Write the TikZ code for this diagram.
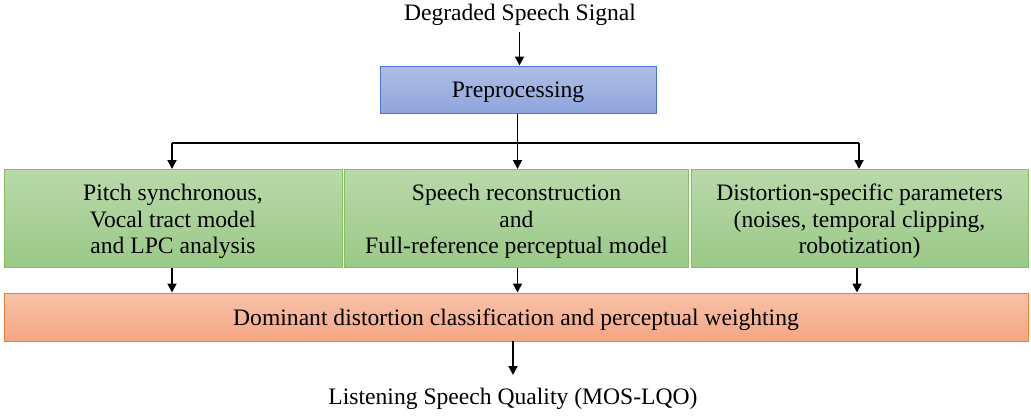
\documentclass[tikz,border=0pt]{standalone}
\usepackage{fontspec}
\setmainfont{Liberation Serif}
\usetikzlibrary{arrows.meta}
\definecolor{bluetop}{HTML}{B0BEE6}
\definecolor{bluebot}{HTML}{8EA4DC}
\definecolor{blueedge}{HTML}{4A78D0}
\definecolor{greentop}{HTML}{B9D9AA}
\definecolor{greenbot}{HTML}{9AC986}
\definecolor{greenedge}{HTML}{86BE62}
\definecolor{orangetop}{HTML}{F8C2A9}
\definecolor{orangebot}{HTML}{F4A683}
\definecolor{orangeedge}{HTML}{EE8035}
\tikzset{
  x=1pt,y=-1pt,
  every node/.style={font=\fontsize{23.6}{26.5}\selectfont, text=black},
  bluebox/.style={draw=blueedge, line width=1pt, top color=bluetop, bottom color=bluebot, inner sep=0pt},
  greenbox/.style={draw=greenedge, line width=1pt, top color=greentop, bottom color=greenbot, inner sep=0pt},
  orangebox/.style={draw=orangeedge, line width=1pt, top color=orangetop, bottom color=orangebot, inner sep=0pt},
  txt/.style={align=center, inner sep=0pt, yshift=-3pt},
  free/.style={align=center, inner sep=0pt},
  arr/.style={line width=1.8pt, -{Triangle[length=9pt,width=9pt]}},
  ln/.style={line width=1.8pt}
}
\begin{document}
\begin{tikzpicture}
\useasboundingbox (0,0) rectangle (1031,416);
\node[free] (in) at (520,15) {Degraded Speech Signal};
\node[bluebox, minimum width=276pt, minimum height=47pt] (pre) at (518,89.5) {};
\node[txt] (pret) at (pre.center) {Preprocessing};
\node[greenbox, minimum width=338pt, minimum height=98pt] (g1) at (173,218.5) {};
\node[txt] (g1t) at (g1.center) {Pitch synchronous,\\Vocal tract model\\and LPC analysis};
\node[greenbox, minimum width=344pt, minimum height=98pt] (g2) at (516.5,218.5) {};
\node[txt] (g2t) at (g2.center) {Speech reconstruction\\and\\Full-reference perceptual model};
\node[greenbox, minimum width=337pt, minimum height=98pt] (g3) at (859.5,218.5) {};
\node[txt] (g3t) at (g3.center) {Distortion-specific parameters\\(noises, temporal clipping,\\robotization)};
\node[orangebox, minimum width=1024pt, minimum height=48pt] (dom) at (516,317) {};
\node[txt] (domt) at (dom.center) {Dominant distortion classification and perceptual weighting};
\node[free] (out) at (513,399) {Listening Speech Quality (MOS-LQO)};
\coordinate (br) at (517.5,143);
\coordinate (bl) at (172,143);
\coordinate (brr) at (859,143);
\coordinate (d3) at (857,268);
\coordinate (topin) at (519.5,32);
\coordinate (botout) at (513,341);
\draw[arr] (topin) -- (topin |- pre.north);
\draw[ln] (br |- pre.south) -- (br);
\draw[ln] (bl) -- (brr);
\draw[arr] (bl) -- (bl |- g1.north);
\draw[arr] (br) -- (br |- g2.north);
\draw[arr] (brr) -- (brr |- g3.north);
\draw[arr] (g1.south -| bl) -- (bl |- dom.north);
\draw[arr] (g2.south -| br) -- (br |- dom.north);
\draw[arr] (d3) -- (d3 |- dom.north);
\draw[arr] (botout) -- (513,375);
\end{tikzpicture}
\end{document}
